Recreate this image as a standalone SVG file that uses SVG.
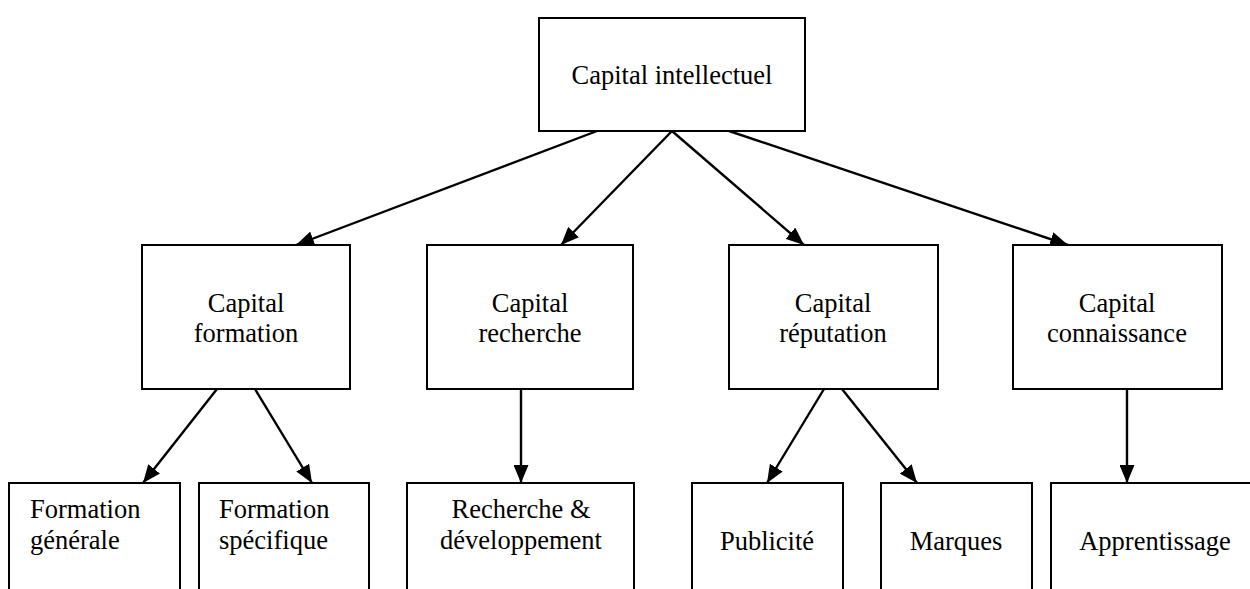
<svg xmlns="http://www.w3.org/2000/svg" width="1250" height="589" viewBox="0 0 1250 589">
  <style>
    .box { fill: #ffffff; stroke: #000000; stroke-width: 2; }
    .lbl { font-family: "Liberation Serif", "Times New Roman", serif; font-size: 26.5px; fill: #000000; }
    .mid { text-anchor: middle; }
    .conn { stroke: #000000; stroke-width: 2.4; fill: none; marker-end: url(#arr); }
  </style>
  <defs>
    <marker id="arr" markerUnits="userSpaceOnUse" markerWidth="18" markerHeight="15" refX="18" refY="7.5" orient="auto">
      <path d="M0,0 L18,7.5 L0,15 z" fill="#000000"/>
    </marker>
  </defs>

  <g id="connectors">
    <line class="conn" x1="597" y1="131" x2="296" y2="245"/>
    <line class="conn" x1="672" y1="131" x2="561" y2="245"/>
    <line class="conn" x1="672" y1="131" x2="804" y2="245"/>
    <line class="conn" x1="729" y1="131" x2="1068" y2="245"/>
    <line class="conn" x1="217" y1="389" x2="143" y2="483"/>
    <line class="conn" x1="255" y1="389" x2="312" y2="483"/>
    <line class="conn" x1="521" y1="389" x2="521" y2="483"/>
    <line class="conn" x1="824" y1="389" x2="767" y2="483"/>
    <line class="conn" x1="842" y1="389" x2="917" y2="483"/>
    <line class="conn" x1="1127" y1="389" x2="1127" y2="483"/>
  </g>

  <g id="capital-intellectuel">
    <rect class="box" x="539" y="18" width="266" height="113"/>
    <text class="lbl mid" x="672" y="84">Capital intellectuel</text>
  </g>

  <g id="capital-formation">
    <rect class="box" x="142" y="245" width="208" height="144"/>
    <text class="lbl mid" x="246" y="312">Capital</text>
    <text class="lbl mid" x="246" y="342">formation</text>
  </g>
  <g id="capital-recherche">
    <rect class="box" x="427" y="245" width="206" height="144"/>
    <text class="lbl mid" x="530" y="312">Capital</text>
    <text class="lbl mid" x="530" y="342">recherche</text>
  </g>
  <g id="capital-reputation">
    <rect class="box" x="729" y="245" width="209" height="144"/>
    <text class="lbl mid" x="833" y="312">Capital</text>
    <text class="lbl mid" x="833" y="342">réputation</text>
  </g>
  <g id="capital-connaissance">
    <rect class="box" x="1013" y="245" width="209" height="144"/>
    <text class="lbl mid" x="1117" y="312">Capital</text>
    <text class="lbl mid" x="1117" y="342">connaissance</text>
  </g>

  <g id="formation-generale">
    <rect class="box" x="9" y="483" width="171" height="130"/>
    <text class="lbl" x="30" y="518">Formation</text>
    <text class="lbl" x="30" y="549">générale</text>
  </g>
  <g id="formation-specifique">
    <rect class="box" x="199" y="483" width="170" height="130"/>
    <text class="lbl" x="219" y="518">Formation</text>
    <text class="lbl" x="219" y="549">spécifique</text>
  </g>
  <g id="recherche-developpement">
    <rect class="box" x="407" y="483" width="227" height="130"/>
    <text class="lbl mid" x="521" y="518">Recherche &amp;</text>
    <text class="lbl mid" x="521" y="549">développement</text>
  </g>
  <g id="publicite">
    <rect class="box" x="692" y="483" width="151" height="130"/>
    <text class="lbl mid" x="767" y="550">Publicité</text>
  </g>
  <g id="marques">
    <rect class="box" x="881" y="483" width="151" height="130"/>
    <text class="lbl mid" x="956" y="550">Marques</text>
  </g>
  <g id="apprentissage">
    <rect class="box" x="1051" y="483" width="208" height="130"/>
    <text class="lbl mid" x="1155" y="550">Apprentissage</text>
  </g>
</svg>
